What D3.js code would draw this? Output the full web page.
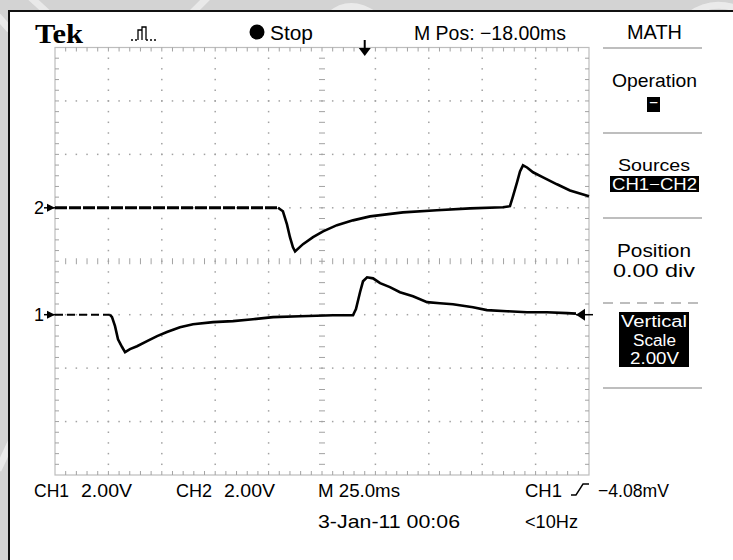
<!DOCTYPE html>
<html><head><meta charset="utf-8">
<script src="https://cdn.jsdelivr.net/npm/d3@7"></script>
<style>html,body{margin:0;padding:0;background:#d3d3d3;overflow:hidden}svg{display:block}</style>
</head><body><svg id="c" width="733" height="560"></svg>
<script>
// ---------- data ----------
const ch1Time  = [0, 25.7, 26.7, 28.1, 29.5, 31.4, 32.8, 35.1, 38.4, 43.1, 47.8, 52.4, 58.5, 64.6, 74.0, 83.3, 92.7, 102.1, 114.7, 130.1, 139.5, 140.9, 142.8, 144.2, 146.1, 148.9, 152.2, 156.8, 161.5, 167.6, 174.2, 180.2, 186.3, 195.7, 202.2, 211.6, 221.0, 230.3, 239.7, 243.9];
const ch1Volts = [0, 0, -0.09, -0.43, -0.92, -1.21, -1.40, -1.29, -1.18, -0.99, -0.80, -0.65, -0.47, -0.36, -0.28, -0.24, -0.17, -0.09, -0.06, -0.02, -0.02, 0.21, 0.84, 1.25, 1.40, 1.36, 1.18, 1.03, 0.84, 0.69, 0.47, 0.43, 0.39, 0.28, 0.17, 0.13, 0.09, 0.09, 0.06, 0.04];
const ch2Time  = [0, 104.4, 106.7, 108.6, 110.0, 111.4, 112.4, 116.1, 120.8, 125.5, 132.0, 139.5, 147.5, 162.9, 178.8, 194.3, 209.7, 213.0, 214.4, 216.3, 217.7, 219.1, 221.0, 223.8, 228.5, 235.0, 241.1, 250];
const ch2Volts = [0, 0, -0.13, -0.62, -1.10, -1.48, -1.63, -1.36, -1.10, -0.88, -0.65, -0.47, -0.32, -0.17, -0.09, -0.02, 0.02, 0.06, 0.43, 0.95, 1.36, 1.59, 1.51, 1.33, 1.14, 0.88, 0.65, 0.43];
const channelMarkers = ["1", "2"];
const channelOffsetDiv = [-1, 1];
const voltsPerDiv = 2;
const msPerDiv = 25;
const divsX = 10, divsY = 8;
const headerLabels = ["Tek", "Stop", "M Pos: \u221218.00ms", "MATH"];
const menuLabels = ["Operation", "\u2212", "Sources", "CH1\u2212CH2", "Position", "0.00 div", "Vertical", "Scale", "2.00V"];
const footerLabels = ["CH1", "2.00V", "CH2", "2.00V", "M 25.0ms", "CH1", "\u22124.08mV", "3-Jan-11 00:06", "<10Hz"];

// ---------- setup ----------
const svg = d3.select("#c");
const FONT = "'Liberation Sans',Arial,sans-serif";

svg.append("rect").attr("width", 733).attr("height", 560).attr("fill", "#d3d3d3");
// faint watermark in the gray margin
const wm = svg.append("g").attr("stroke", "#ececec").attr("fill", "none").attr("stroke-width", 7).attr("opacity", 0.9);
wm.append("line").attr("x1", 28).attr("y1", -5).attr("x2", 50).attr("y2", 15);
wm.append("line").attr("x1", -4).attr("y1", 14).attr("x2", 10).attr("y2", 30);
wm.append("line").attr("x1", 190).attr("y1", 15).attr("x2", 210).attr("y2", -5);
wm.append("path").attr("d", "M330,15 Q350,-2 375,15");
wm.append("path").attr("d", "M690,15 Q710,0 735,8");
wm.append("line").attr("x1", -2).attr("y1", 470).attr("x2", 12).attr("y2", 440);

svg.append("rect").attr("x", 9).attr("y", 11).attr("width", 740).attr("height", 570)
  .attr("fill", "#fff").attr("stroke", "#111").attr("stroke-width", 2);

const x = d3.scaleLinear().domain([0, divsX * msPerDiv]).range([55, 589]);
const y = d3.scaleLinear().domain([-divsY / 2, divsY / 2]).range([475, 47.5]);

// ---------- graticule ----------
const g = svg.append("g");
const tMax = divsX * msPerDiv;
const tMinor = d3.range(0, tMax + 0.01, msPerDiv / 5);
const dMinor = d3.range(-4, 4.001, 0.2).map(d => +d.toFixed(2));
const tMajor = d3.range(msPerDiv, tMax - 0.01, msPerDiv);
const dMajor = d3.range(-3, 3.01, 1);
const gridCol = "#a2a2a2";

g.append("rect").attr("x", x(0)).attr("y", y(4)).attr("width", x(tMax) - x(0)).attr("height", y(-4) - y(4))
  .attr("fill", "none").attr("stroke", "#bdbdbd").attr("stroke-width", 1.2);

tMinor.slice(1, -1).forEach(t => {
  g.append("line").attr("x1", x(t)).attr("x2", x(t)).attr("y1", y(4)).attr("y2", y(4) + 4).attr("stroke", gridCol);
  g.append("line").attr("x1", x(t)).attr("x2", x(t)).attr("y1", y(-4)).attr("y2", y(-4) - 4).attr("stroke", gridCol);
  g.append("line").attr("x1", x(t)).attr("x2", x(t)).attr("y1", y(0) - 3).attr("y2", y(0) + 3).attr("stroke", gridCol);
});
dMinor.slice(1, -1).forEach(d => {
  g.append("line").attr("y1", y(d)).attr("y2", y(d)).attr("x1", x(0)).attr("x2", x(0) + 4).attr("stroke", gridCol);
  g.append("line").attr("y1", y(d)).attr("y2", y(d)).attr("x1", x(tMax)).attr("x2", x(tMax) - 4).attr("stroke", gridCol);
  g.append("line").attr("y1", y(d)).attr("y2", y(d)).attr("x1", x(tMax / 2) - 3).attr("x2", x(tMax / 2) + 3).attr("stroke", gridCol);
});
tMajor.filter(t => Math.abs(t - tMax / 2) > 0.01).forEach(t => {
  dMinor.slice(1, -1).forEach(d => {
    g.append("rect").attr("x", x(t) - 0.75).attr("y", y(d) - 0.75).attr("width", 1.5).attr("height", 1.5).attr("fill", gridCol);
  });
});
dMajor.filter(d => d !== 0).forEach(d => {
  tMinor.slice(1, -1).forEach(t => {
    g.append("rect").attr("x", x(t) - 0.75).attr("y", y(d) - 0.75).attr("width", 1.5).attr("height", 1.5).attr("fill", gridCol);
  });
});

// ---------- traces ----------
function drawTrace(times, volts, offset, flatDash, flatWidth) {
  const pts = times.map((t, i) => [t, volts[i] / voltsPerDiv + offset]);
  const line = d3.line().x(p => x(p[0])).y(p => y(p[1]));
  const k = volts.findIndex(v => v !== 0);
  svg.append("path").attr("d", line(pts.slice(0, k))).attr("fill", "none").attr("stroke", "#000")
    .attr("stroke-width", flatWidth).attr("stroke-dasharray", flatDash);
  svg.append("path").attr("d", line(pts.slice(k - 1))).attr("fill", "none").attr("stroke", "#000")
    .attr("stroke-width", 2.6).attr("stroke-linejoin", "miter");
}
drawTrace(ch2Time, ch2Volts, channelOffsetDiv[1], "12,2", 3);
drawTrace(ch1Time, ch1Volts, channelOffsetDiv[0], "8,4", 2);

channelMarkers.forEach((m, i) => {
  const yy = y(channelOffsetDiv[i]);
  svg.append("text").attr("x", 34).attr("y", yy + 6).text(m)
    .attr("font-family", FONT).attr("font-size", 18).attr("textLength", 10).attr("lengthAdjust", "spacingAndGlyphs");
  svg.append("path").attr("d", `M47,${yy - 4} L55,${yy} L47,${yy + 4} Z`).attr("fill", "#000");
  svg.append("line").attr("x1", 44).attr("x2", 55).attr("y1", yy).attr("y2", yy).attr("stroke", "#000").attr("stroke-width", 1.5);
});
{
  const yy = y(channelOffsetDiv[0]);
  svg.append("path").attr("d", `M576,${yy} L585,${yy - 6} L585,${yy + 6} Z`).attr("fill", "#000");
  svg.append("line").attr("x1", 576).attr("x2", 593).attr("y1", yy).attr("y2", yy).attr("stroke", "#000").attr("stroke-width", 1.5);
}
{
  const tx = x(tMax / 2 + 0.8 * msPerDiv);
  svg.append("line").attr("x1", tx).attr("x2", tx).attr("y1", 40).attr("y2", 50).attr("stroke", "#000").attr("stroke-width", 2);
  svg.append("path").attr("d", `M${tx - 6},${48} L${tx + 6},${48} L${tx},${56} Z`).attr("fill", "#000");
}

// ---------- text helper ----------
function label(txt, x0, x1, base, size, opt = {}) {
  return svg.append("text").attr("x", x0).attr("y", base).text(txt)
    .attr("font-family", opt.family || FONT).attr("font-size", size)
    .attr("font-weight", opt.weight || "normal")
    .attr("fill", opt.fill || "#000")
    .attr("textLength", x1 - x0).attr("lengthAdjust", "spacingAndGlyphs");
}

// header
label(headerLabels[0], 35, 83, 43, 27, { family: "'Liberation Serif','Times New Roman',serif", weight: "bold" });
svg.append("path").attr("d", "M131,40 H133 M135,40 H137 M138,40 V30 H142 V40 M142,40 V27 H146 V40 M146,40 H148 M150,40 H152 M154,40 H156")
  .attr("fill", "none").attr("stroke", "#000").attr("stroke-width", 1.3);
svg.append("circle").attr("cx", 257).attr("cy", 32).attr("r", 7.5).attr("fill", "#000");
label(headerLabels[1], 270, 313, 40, 20);
label(headerLabels[2], 414, 566, 40, 20);
label(headerLabels[3], 627, 682, 39, 20);

// menu
const sepCol = "#a8a8a8";
[48, 133, 218, 388].forEach(yy => svg.append("line").attr("x1", 603).attr("x2", 702).attr("y1", yy).attr("y2", yy)
  .attr("stroke", sepCol).attr("stroke-width", 1.5));
svg.append("line").attr("x1", 603).attr("x2", 702).attr("y1", 303).attr("y2", 303)
  .attr("stroke", sepCol).attr("stroke-width", 1.5).attr("stroke-dasharray", "10,7");
label(menuLabels[0], 612, 697, 87, 19);
svg.append("rect").attr("x", 647).attr("y", 97).attr("width", 13).attr("height", 15).attr("fill", "#000");
label(menuLabels[1], 649, 658, 108, 16, { fill: "#fff" });
label(menuLabels[2], 618, 690, 171, 16.5);
svg.append("rect").attr("x", 610).attr("y", 176).attr("width", 89).attr("height", 16).attr("fill", "#000");
label(menuLabels[3], 612, 697, 190, 16.5, { fill: "#fff" });
label(menuLabels[4], 617, 691, 257, 18);
label(menuLabels[5], 613, 695, 277, 18);
svg.append("rect").attr("x", 619).attr("y", 312).attr("width", 70).attr("height", 55).attr("fill", "#000");
label(menuLabels[6], 621, 687, 327, 16);
label(menuLabels[7], 633, 676, 345.5, 16);
label(menuLabels[8], 630, 679, 364, 16);
svg.selectAll("text").filter(function () { return ["Vertical", "Scale", "2.00V"].includes(this.textContent) && +this.getAttribute("y") > 320; }).attr("fill", "#fff");

// footer
label(footerLabels[0], 34, 69, 497, 19);
label(footerLabels[1], 81, 132, 497, 19);
label(footerLabels[2], 176, 212, 497, 19);
label(footerLabels[3], 224, 275, 497, 19);
label(footerLabels[4], 318, 400, 497, 19);
label(footerLabels[5], 525, 562, 497, 19);
svg.append("path").attr("d", "M571,495 H576 L583,484 H589").attr("fill", "none").attr("stroke", "#000").attr("stroke-width", 1.4);
label(footerLabels[6], 598, 669, 497, 19);
label(footerLabels[7], 318, 460, 528, 19);
label(footerLabels[8], 525, 578, 528, 19);
</script></body></html>
